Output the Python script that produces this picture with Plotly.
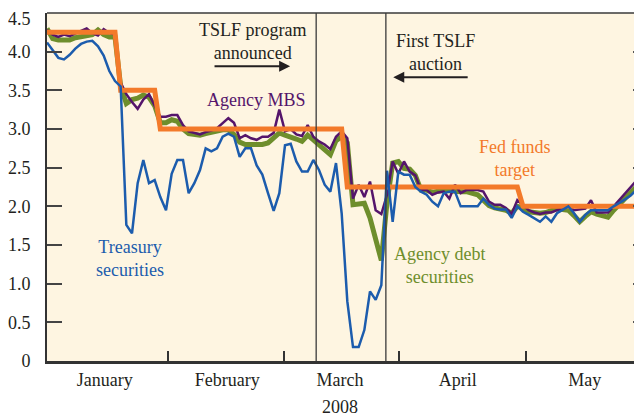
import plotly.graph_objects as go

# ---------------- data (business-day index, Jan 2 - May 30, 2008) ----------------
days = list(range(106))

treasury = [4.12, 4.02, 3.92, 3.90, 3.96, 4.04, 4.10, 4.13, 4.14, 4.07,
            3.95, 3.75, 3.62, 3.55, 1.76, 1.65, 2.30, 2.60, 2.30, 2.34,
            2.12, 1.95, 2.42, 2.60, 2.60, 2.17, 2.30, 2.47, 2.75, 2.71,
            2.75, 2.90, 2.94, 2.90, 2.64, 2.75, 2.75, 2.53, 2.41, 2.17,
            1.94, 2.17, 2.79, 2.81, 2.58, 2.45, 2.45, 2.60, 2.47, 2.28,
            2.19, 2.56, 1.91, 0.77, 0.18, 0.18, 0.40, 0.90, 0.79, 0.98,
            2.46, 1.80, 2.45, 2.41, 2.41, 2.25, 2.19, 2.15, 2.06, 2.00,
            2.17, 2.19, 2.19, 2.00, 2.00, 2.00, 2.00, 2.10, 2.02, 1.97,
            1.96, 1.96, 1.85, 2.00, 1.93, 1.89, 1.85, 1.80, 1.87, 1.80,
            1.91, 1.96, 2.00, 1.91, 1.80, 1.89, 1.95, 1.95, 1.95, 1.95,
            2.00, 2.04, 2.09, 2.14, 2.21, 2.17]

agency_mbs = [4.28, 4.22, 4.19, 4.22, 4.20, 4.24, 4.27, 4.30, 4.24, 4.21,
              4.29, 4.24, 4.22, 3.60, 3.45, 3.35, 3.26, 3.38, 3.45, 3.30,
              3.16, 3.16, 3.18, 3.18, 3.05, 2.97, 2.95, 2.93, 2.96, 2.98,
              3.01, 3.08, 3.14, 3.08, 2.88, 2.92, 2.88, 2.86, 2.90, 2.90,
              2.95, 3.25, 2.97, 3.00, 2.93, 2.91, 3.05, 2.90, 2.84, 2.80,
              2.74, 2.90, 2.97, 2.88, 2.10, 2.28, 2.12, 2.32, 1.95, 1.90,
              2.15, 2.58, 2.42, 2.58, 2.45, 2.40, 2.21, 2.21, 2.15, 2.18,
              2.19, 2.10, 2.28, 2.17, 2.21, 2.21, 2.21, 2.19, 2.06, 2.02,
              2.02, 1.98, 1.90, 2.08, 2.01, 1.95, 1.92, 1.90, 1.92, 1.92,
              1.95, 1.97, 2.00, 1.95, 1.96, 1.97, 2.08, 1.92, 1.92, 1.92,
              2.00, 2.08, 2.16, 2.24, 2.33, 2.23]

agency_debt = [4.30, 4.17, 4.15, 4.15, 4.15, 4.18, 4.19, 4.20, 4.22, 4.28,
               4.22, 4.19, 4.19, 3.55, 3.33, 3.38, 3.40, 3.44, 3.41, 3.30,
               3.08, 3.08, 3.12, 3.10, 3.00, 2.94, 2.93, 2.92, 2.94, 2.96,
               2.98, 2.99, 2.99, 2.93, 2.83, 2.80, 2.80, 2.80, 2.80, 2.82,
               2.88, 2.95, 2.92, 2.90, 2.87, 2.84, 2.92, 2.86, 2.80, 2.75,
               2.67, 2.85, 2.90, 2.82, 2.02, 2.03, 2.04, 1.85, 1.60, 1.30,
               2.05, 2.56, 2.58, 2.49, 2.48, 2.40, 2.21, 2.21, 2.18, 2.19,
               2.21, 2.20, 2.19, 2.19, 2.19, 2.17, 2.15, 2.08, 2.01, 1.98,
               1.97, 1.95, 1.91, 2.00, 1.98, 1.93, 1.92, 1.91, 1.92, 1.95,
               1.97, 1.96, 1.95, 1.88, 1.80, 1.87, 1.93, 1.90, 1.88, 1.86,
               1.95, 2.03, 2.12, 2.18, 2.25, 2.19]

fed_funds_target = [4.25, 4.25, 4.25, 4.25, 4.25, 4.25, 4.25, 4.25, 4.25, 4.25,
                    4.25, 4.25, 4.25, 3.50, 3.50, 3.50, 3.50, 3.50, 3.50, 3.50,
                    3.00, 3.00, 3.00, 3.00, 3.00, 3.00, 3.00, 3.00, 3.00, 3.00,
                    3.00, 3.00, 3.00, 3.00, 3.00, 3.00, 3.00, 3.00, 3.00, 3.00,
                    3.00, 3.00, 3.00, 3.00, 3.00, 3.00, 3.00, 3.00, 3.00, 3.00,
                    3.00, 3.00, 3.00, 2.25, 2.25, 2.25, 2.25, 2.25, 2.25, 2.25,
                    2.25, 2.25, 2.25, 2.25, 2.25, 2.25, 2.25, 2.25, 2.25, 2.25,
                    2.25, 2.25, 2.25, 2.25, 2.25, 2.25, 2.25, 2.25, 2.25, 2.25,
                    2.25, 2.25, 2.25, 2.25, 2.00, 2.00, 2.00, 2.00, 2.00, 2.00,
                    2.00, 2.00, 2.00, 2.00, 2.00, 2.00, 2.00, 2.00, 2.00, 2.00,
                    2.00, 2.00, 2.00, 2.00, 2.00, 2.00]

month_labels = ["January", "February", "March", "April", "May"]
month_centers = [10.2, 31.8, 51.7, 72.5, 94.9]
month_bounds = [21.35, 41.8, 62.1, 84.5]
events = [47.5, 59.8]   # TSLF announced, first TSLF auction

y_ticks = [0, 0.5, 1.0, 1.5, 2.0, 2.5, 3.0, 3.5, 4.0, 4.5]
y_tick_text = ["0", "0.5", "1.0", "1.5", "2.0", "2.5", "3.0", "3.5", "4.0", "4.5"]

# ---------------- styling ----------------
FONT = "Liberation Serif, Times New Roman, serif"
DARK = "#231F20"
ORANGE = "#F37A2A"
GREEN = "#6E8E2C"
PURPLE = "#55156B"
BLUE = "#1C5CAD"
BG = "#FEF5E1"

fig = go.Figure()
fig.add_trace(go.Scatter(x=days, y=agency_debt, mode="lines",
                         line=dict(color=GREEN, width=5), name="Agency debt"))
fig.add_trace(go.Scatter(x=days, y=agency_mbs, mode="lines",
                         line=dict(color=PURPLE, width=2.5), name="Agency MBS"))
fig.add_trace(go.Scatter(x=days, y=fed_funds_target, mode="lines",
                         line=dict(color=ORANGE, width=5), name="Fed funds target"))
fig.add_trace(go.Scatter(x=days, y=treasury, mode="lines",
                         line=dict(color=BLUE, width=2.5), name="Treasury"))
# invisible trace for right-hand tick axis
fig.add_trace(go.Scatter(x=[days[0]], y=[y_ticks[0]], yaxis="y2", mode="lines",
                         line=dict(width=0), showlegend=False, hoverinfo="skip"))
# invisible trace for month-boundary tick axis
fig.add_trace(go.Scatter(x=[days[0]], y=[y_ticks[0]], xaxis="x2", mode="lines",
                         line=dict(width=0), showlegend=False, hoverinfo="skip"))

for ev in events:
    fig.add_vline(x=ev, line=dict(color="#3A3A3A", width=1.3))

fig.add_shape(type="line", xref="paper", yref="paper", x0=0, x1=1, y0=1, y1=1,
              line=dict(color="#3A3A3A", width=1.5))

def txt(x, y, s, color, size=18):
    fig.add_annotation(x=x, y=y, xref="x", yref="y", text=s, showarrow=False,
                       font=dict(family=FONT, size=size, color=color),
                       xanchor="center", yanchor="middle")

txt(36.3, 4.135, "TSLF program<br>announced", DARK)
txt(68.6, 3.99, "First TSLF<br>auction", DARK)
txt(36.9, 3.375, "Agency MBS", PURPLE)
txt(14.6, 1.325, "Treasury<br>securities", BLUE)
txt(82.6, 2.625, "Fed funds<br>target", ORANGE)
txt(69.2, 1.24, "Agency debt<br>securities", GREEN)

# arrows
fig.add_annotation(x=42.9, y=3.81, ax=29.3, ay=3.81, xref="x", yref="y",
                   axref="x", ayref="y", text="", showarrow=True,
                   arrowhead=2, arrowsize=1.1, arrowwidth=2, arrowcolor=DARK)
fig.add_annotation(x=61.1, y=3.67, ax=74.5, ay=3.67, xref="x", yref="y",
                   axref="x", ayref="y", text="", showarrow=True,
                   arrowhead=2, arrowsize=1.1, arrowwidth=2, arrowcolor=DARK)

fig.add_annotation(x=month_centers[2], y=-0.132, xref="x", yref="paper",
                   text="2008", showarrow=False, yanchor="middle",
                   font=dict(family=FONT, size=18, color=DARK))

# top tick label (sits just below the top edge, as in the original)
fig.add_annotation(x=-0.023, y=0.984, xref="paper", yref="paper",
                   text=y_tick_text[-1], showarrow=False,
                   xanchor="right", yanchor="middle",
                   font=dict(family=FONT, size=18, color=DARK))

# the page body adds an 8px offset, so the figure is sized to fill the window
fig.update_layout(
    width=634, height=408,
    margin=dict(l=39, r=0, t=5, b=55),
    paper_bgcolor="white", plot_bgcolor=BG,
    showlegend=False,
    font=dict(family=FONT, size=18, color=DARK),
    xaxis=dict(range=[0, 105], tickvals=month_centers, ticktext=month_labels,
               ticks="", showgrid=False, zeroline=False, automargin=False,
               showline=True, linecolor="#333333", linewidth=3,
               tickfont=dict(family=FONT, size=18, color=DARK)),
    xaxis2=dict(range=[0, 105], overlaying="x", side="bottom", anchor="y",
                tickvals=month_bounds, ticktext=["", "", "", ""], automargin=False,
                ticks="inside", ticklen=10, tickwidth=1.5, tickcolor="#333333",
                showgrid=False, zeroline=False, showline=False),
    yaxis=dict(range=[0, 4.5], tickvals=y_ticks[:-1], ticktext=y_tick_text[:-1],
               ticks="inside", ticklen=15, tickwidth=2, tickcolor="#444444",
               showgrid=False, zeroline=False, automargin=False,
               ticklabelstandoff=11,
               showline=True, linecolor="#333333", linewidth=2,
               tickfont=dict(family=FONT, size=18, color=DARK)),
    yaxis2=dict(range=[0, 4.5], overlaying="y", side="right", anchor="x",
                tickvals=y_ticks, showticklabels=False, automargin=False,
                ticks="inside", ticklen=9, tickwidth=2, tickcolor="#555555",
                showgrid=False, zeroline=False, showline=False),
)

fig.write_html("out.html")
